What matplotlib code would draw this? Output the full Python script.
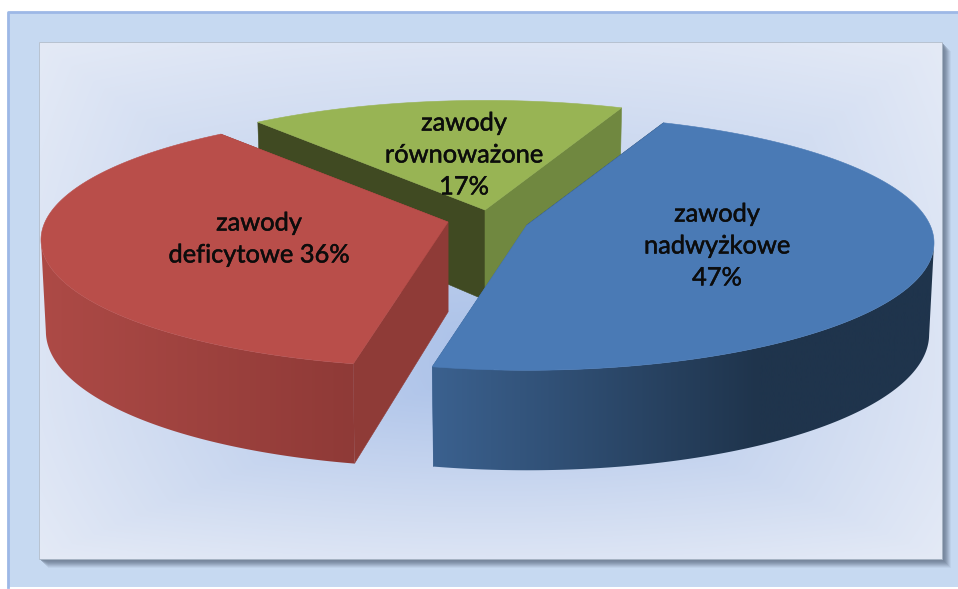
import numpy as np
import matplotlib
matplotlib.use("Agg")
import matplotlib.pyplot as plt
import matplotlib.patheffects as pe
from matplotlib.patches import Polygon, Rectangle

labels = ["zawody\nnadwyżkowe\n47%", "zawody\ndeficytowe 36%", "zawody\nrównoważone\n17%"]
values = [47, 36, 17]

START = 67.5
R, TILT, K, SHRINK = 403.0, 0.31, 0.14, 0.988
apex = [(527, 225), (448, 222), (485, 210)]
label_xy = [(717, 246), (259, 239), (464, 155)]
top_col = ["#4a7ab5", "#b94e4a", "#98b454"]
wall_left = ["#3b618f", "#ad4a46", "#708840"]
wall_right = ["#1f344c", "#8f3a37", "#708840"]
grad_span = [0.65, 1.0, 1.0]
cut_col = [("#1f344c", "#3b618f"), ("#8f3b37", "#8f3b37"), ("#404a22", "#708840")]

W, H = 958, 589
fig = plt.figure(figsize=(W / 100, H / 100), dpi=100)
ax = fig.add_axes([0, 0, 1, 1])
ax.set_xlim(0, W)
ax.set_ylim(H, 0)
ax.axis("off")
fig.patch.set_facecolor("white")


def hexrgb(c):
    return np.array(matplotlib.colors.to_rgb(c))


def top_pt(c, deg):
    a = np.radians(deg)
    X, Y = np.cos(a), np.sin(a)
    s = 1 / (1 + K * Y)
    return np.array([c[0] + R * s * X, c[1] - R * TILT * s * Y])


def bot_pt(c, deg, r=1.0):
    a = np.radians(deg)
    X, Y = r * np.cos(a), r * np.sin(a)
    s = 1 / (1 + K * Y)
    h = 90 - 10 * Y
    return np.array([c[0] + SHRINK * R * s * X, c[1] - R * TILT * s * Y + h])


# frame
ax.add_patch(Rectangle((8, 11.5), 960, 575, fc="#c6d9f1", ec="none", zorder=0))
ax.plot([8, 8, 958], [587, 11.5, 11.5], color="#9db8e6", lw=2, zorder=0.5)
# panel shadow
for i, a in zip(range(9, 0, -1), [0.10, 0.15, 0.2, 0.25, 0.32, 0.4, 0.5, 0.65, 0.8]):
    ax.add_patch(Rectangle((39 + i, 42 + i), 903, 517, fc="#76869c", ec="none", alpha=a, zorder=1))
# panel gradient
px0, px1, py0, py1 = 39, 942, 42, 559
xx, yy = np.meshgrid(np.linspace(0, 1, 452), np.linspace(0, 1, 259))
dx, dy = np.abs(xx - 0.5) * 2, np.abs(yy - 0.62) / 0.62
dy = np.where(yy > 0.62, np.abs(yy - 0.62) / 0.38, dy)
d = np.clip(np.maximum(dx, dy) * 0.55 + 0.45 * np.sqrt((dx ** 2 + dy ** 2) / 2), 0, 1)[..., None]
img = hexrgb("#a9c0e8") * (1 - d) + hexrgb("#e4eaf6") * d
ax.imshow(img, extent=(px0, px1, py1, py0), aspect="auto", zorder=2, interpolation="bilinear")
ax.add_patch(Rectangle((px0, py0), px1 - px0, py1 - py0, fc="none", ec="#b0bccb", lw=0.6, zorder=3))

# slices, clockwise from START: green first, then red, then blue on top
ends = np.cumsum(values) / np.sum(values) * 360
bounds = [(START - (ends[i - 1] if i else 0), START - ends[i]) for i in range(len(values))]
z = 5
for i in [2, 1, 0]:
    c, (a0, a1) = apex[i], bounds[i]
    # cut faces
    for ang, col in zip((a0, a1), cut_col[i]):
        ax.add_patch(Polygon([c, top_pt(c, ang), bot_pt(c, ang), bot_pt(c, ang, 0)],
                             fc=col, ec=col, lw=0.4, zorder=z))
    # outer wall (front part only): gradient along screen x, clipped to the wall outline
    angs = np.linspace(a0, a1, 400)
    front = angs[np.sin(np.radians(angs)) <= -K]
    if len(front) > 1:
        r_top = np.array([top_pt(c, t) for t in front])
        r_bot = np.array([bot_pt(c, t) for t in front])
        outline = Polygon(np.vstack([r_top, r_bot[::-1]]), fc="none", ec="none", transform=ax.transData)
        ax.add_patch(outline)
        x0, x1 = r_top[:, 0].min(), r_top[:, 0].max()
        xg = np.linspace(0, 1, 400)
        f = np.clip(xg / grad_span[i], 0, 1)[None, :, None]
        grad = hexrgb(wall_left[i]) * (1 - f) + hexrgb(wall_right[i]) * f
        im = ax.imshow(grad, extent=(x0, x1, H, 0), aspect="auto", zorder=z + 0.5)
        im.set_clip_path(outline)
    # top
    rim = np.array([top_pt(c, t) for t in angs])
    ax.add_patch(Polygon(np.vstack([[c], rim]), fc=top_col[i], ec=top_col[i], lw=0.4, zorder=z + 1))
    z += 2

ax.set_xlim(0, W)
ax.set_ylim(H, 0)

for s, (x, y) in zip(labels, label_xy):
    ax.text(x, y, s, ha="center", va="center", fontsize=18.3, family="Lato",
            color="#0c0c0c", linespacing=1.47, zorder=20,
            path_effects=[pe.withStroke(linewidth=0.35, foreground="#0c0c0c")])

fig.savefig("out.png", dpi=100, facecolor="white")
